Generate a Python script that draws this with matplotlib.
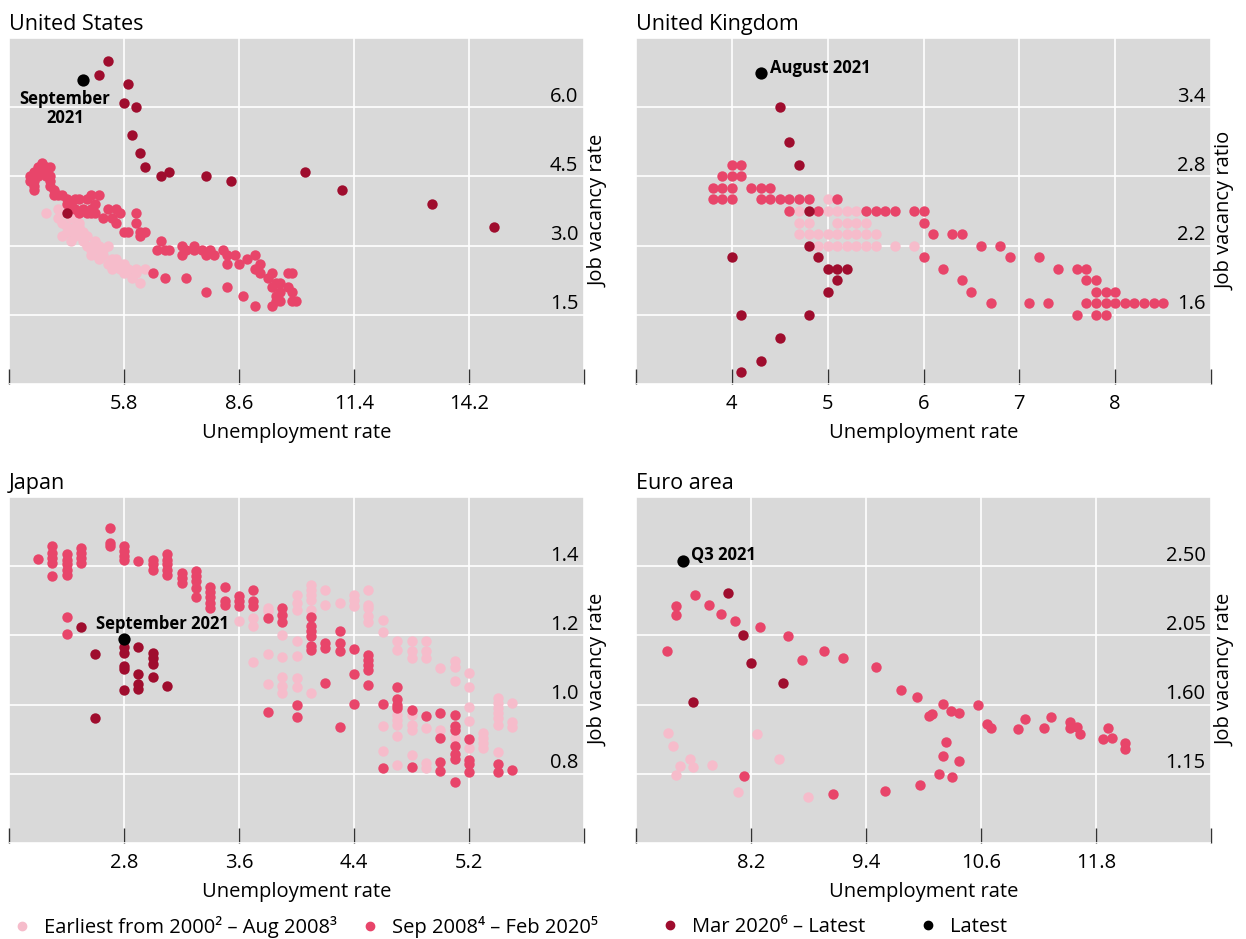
import matplotlib.pyplot as plt
from matplotlib.lines import Line2D

plt.rcParams['font.family'] = ['Open Sans', 'DejaVu Sans']

PINK = '#f6bccb'
RED = '#e8456a'
DARK = '#9f0d2e'
BG = '#d9d9d9'

# ---------------- United States: (unemployment rate, job vacancy rate)
us_pink = [(3.9, 3.7), (4.2, 3.8), (4.2, 3.6), (4.3, 3.5), (4.4, 3.4), (4.4, 3.7), (4.3, 3.2),
           (4.4, 3.3), (4.5, 3.1), (4.5, 3.6), (4.6, 3.4), (4.6, 3.2), (4.6, 3.3), (4.7, 3.4),
           (4.7, 3.5), (4.8, 3.1), (4.8, 3.3), (4.9, 3.2), (4.9, 3.0), (5.0, 3.0), (5.0, 2.9),
           (5.0, 2.8), (5.1, 3.1), (5.2, 2.9), (5.2, 3.0), (5.2, 2.7), (5.3, 2.8), (5.3, 2.9),
           (5.4, 3.0), (5.4, 2.6), (5.5, 2.7), (5.5, 2.5), (5.6, 2.7), (5.6, 2.6), (5.7, 2.6),
           (5.7, 2.5), (5.8, 2.6), (5.8, 2.4), (5.9, 2.5), (6.0, 2.3), (6.1, 2.5), (6.1, 2.4),
           (6.2, 2.2), (6.3, 2.5)]
us_mid = [(3.5, 4.4), (3.5, 4.5), (3.6, 4.3), (3.6, 4.4), (3.6, 4.6), (3.6, 4.2), (3.7, 4.5),
          (3.7, 4.6), (3.7, 4.7), (3.8, 4.6), (3.8, 4.8), (3.9, 4.7), (3.9, 4.5), (4.0, 4.7),
          (4.0, 4.4), (4.0, 4.5), (4.0, 4.3), (4.1, 4.1), (4.1, 4.2), (4.2, 4.1), (4.3, 4.1),
          (4.4, 4.0), (4.5, 3.9), (4.4, 3.9), (4.6, 4.0), (4.7, 4.0), (4.9, 4.0), (5.0, 4.1),
          (5.2, 4.1), (4.6, 3.8), (4.8, 3.8), (5.0, 3.8), (5.1, 3.9), (4.7, 3.7), (4.9, 3.7),
          (5.0, 3.7), (5.1, 3.7), (5.3, 3.6), (5.4, 3.8), (5.5, 3.6), (5.6, 3.5), (5.6, 3.8),
          (5.7, 3.7), (5.9, 3.3), (5.8, 3.3), (6.1, 3.7), (6.1, 3.5), (6.2, 3.3), (6.3, 3.3),
          (6.2, 3.2), (6.7, 3.1), (6.6, 2.9), (6.8, 2.9), (6.9, 2.9), (7.2, 3.0), (7.2, 2.8),
          (7.3, 2.9), (7.5, 3.0), (7.5, 2.9), (7.7, 2.9), (7.8, 2.8), (7.9, 2.9), (8.0, 2.8),
          (8.2, 2.9), (8.3, 2.8), (8.3, 2.6), (8.5, 2.8), (8.6, 2.6), (8.8, 2.7), (9.0, 2.8),
          (9.1, 2.6), (9.0, 2.5), (9.1, 2.4), (9.3, 2.3), (9.4, 2.4), (9.5, 2.2), (9.6, 2.2),
          (9.4, 2.1), (9.8, 2.4), (9.9, 2.4), (9.8, 2.1), (9.9, 2.0), (9.9, 1.8), (10.0, 1.8),
          (9.5, 1.9), (9.5, 1.8), (9.6, 2.0), (9.4, 1.7), (9.6, 1.8), (6.5, 2.4), (6.8, 2.3),
          (7.3, 2.3), (7.8, 2.0), (8.3, 2.1), (8.7, 1.9), (9.0, 1.7)]
us_dark = [(4.4, 3.7), (14.8, 3.4), (13.3, 3.9), (11.1, 4.2), (10.2, 4.6), (8.4, 4.4), (7.8, 4.5),
           (6.9, 4.6), (6.7, 4.5), (6.3, 4.7), (6.2, 5.0), (6.0, 5.4), (6.1, 6.0), (5.8, 6.1),
           (5.9, 6.5), (5.4, 7.0), (5.2, 6.7)]
us_latest = [(4.8, 6.6)]

# ---------------- United Kingdom
uk_pink = [(5.0, 2.6), (4.7, 2.5), (5.0, 2.5), (5.1, 2.5), (5.2, 2.5), (5.3, 2.5),
           (4.7, 2.4), (4.8, 2.4), (5.1, 2.4), (5.2, 2.4), (5.3, 2.4), (5.4, 2.4),
           (4.7, 2.3), (4.8, 2.3), (4.9, 2.3), (5.0, 2.3), (5.1, 2.3), (5.2, 2.3), (5.3, 2.3),
           (5.4, 2.3), (5.5, 2.3), (4.9, 2.2), (5.0, 2.2), (5.1, 2.2), (5.2, 2.2), (5.3, 2.2),
           (5.4, 2.2), (5.5, 2.2), (5.7, 2.2), (5.9, 2.2)]
uk_mid = [(4.0, 2.9), (4.1, 2.9), (3.9, 2.8), (4.0, 2.8), (4.1, 2.8),
          (3.8, 2.7), (3.9, 2.7), (4.0, 2.7), (4.2, 2.7), (4.3, 2.7), (4.4, 2.7),
          (3.8, 2.6), (3.9, 2.6), (4.0, 2.6), (4.3, 2.6), (4.4, 2.6), (4.5, 2.6), (4.6, 2.6),
          (4.7, 2.6), (4.8, 2.6), (5.1, 2.6),
          (4.6, 2.5), (4.9, 2.5), (5.4, 2.5), (5.5, 2.5), (5.6, 2.5), (5.7, 2.5), (5.9, 2.5),
          (6.0, 2.5), (6.0, 2.4), (6.1, 2.3), (6.3, 2.3), (6.4, 2.3), (6.6, 2.2), (6.8, 2.2),
          (6.0, 2.1), (6.9, 2.1), (7.2, 2.1), (6.2, 2.0), (7.4, 2.0), (7.6, 2.0), (7.7, 2.0),
          (6.4, 1.9), (7.7, 1.9), (7.8, 1.9), (6.5, 1.8), (7.8, 1.8), (7.9, 1.8), (8.0, 1.8),
          (6.7, 1.7), (7.1, 1.7), (7.3, 1.7), (7.7, 1.7), (7.8, 1.7), (7.9, 1.7), (8.0, 1.7),
          (8.1, 1.7), (8.2, 1.7), (8.3, 1.7), (8.4, 1.7), (8.5, 1.7),
          (7.6, 1.6), (7.8, 1.6), (7.9, 1.6)]
uk_dark = [(4.7, 2.9), (4.8, 2.5), (4.8, 2.2), (4.0, 2.1), (4.9, 2.1), (5.0, 2.0), (5.1, 2.0),
           (5.2, 2.0), (5.1, 1.9), (5.0, 1.8), (4.1, 1.6), (4.8, 1.6), (4.5, 1.4), (4.3, 1.2),
           (4.1, 1.1), (4.6, 3.1), (4.5, 3.4)]
uk_latest = [(4.3, 3.7)]

# ---------------- Japan
jp_pink = [(3.6, 1.243), (3.7, 1.25), (3.7, 1.226), (3.7, 1.123), (3.8, 1.28), (3.8, 1.27),
           (3.8, 1.147), (3.8, 1.06), (3.9, 1.2), (3.9, 1.137), (3.9, 1.08), (3.9, 1.053),
           (3.9, 1.034), (4.0, 1.318), (4.0, 1.294), (4.0, 1.274), (4.0, 1.185), (4.0, 1.141),
           (4.0, 1.078), (4.0, 1.052), (4.1, 1.347), (4.1, 1.332), (4.1, 1.318), (4.1, 1.303),
           (4.1, 1.274), (4.1, 1.033), (4.2, 1.332), (4.2, 1.287), (4.3, 1.294), (4.4, 1.318),
           (4.4, 1.303), (4.4, 1.284), (4.5, 1.33), (4.5, 1.289), (4.5, 1.279), (4.5, 1.255),
           (4.5, 1.24), (4.6, 1.245), (4.6, 1.21), (4.6, 0.939), (4.6, 0.867), (4.7, 1.185),
           (4.7, 1.159), (4.7, 0.97), (4.7, 0.956), (4.7, 0.942), (4.7, 0.91), (4.7, 0.824),
           (4.8, 1.185), (4.8, 1.156), (4.8, 1.134), (4.8, 0.97), (4.8, 0.942), (4.8, 0.927),
           (4.8, 0.855), (4.9, 1.185), (4.9, 1.154), (4.9, 1.134), (4.9, 0.932), (4.9, 0.83),
           (4.9, 0.816), (5.0, 1.107), (5.0, 0.927), (5.1, 1.125), (5.1, 1.11), (5.1, 1.069),
           (5.1, 0.903), (5.2, 1.091), (5.2, 1.052), (5.2, 0.993), (5.2, 0.953), (5.2, 0.876),
           (5.3, 0.917), (5.3, 0.903), (5.3, 0.889), (5.3, 0.874), (5.4, 1.019), (5.4, 1.004),
           (5.4, 0.99), (5.4, 0.975), (5.4, 0.96), (5.4, 0.942), (5.4, 0.864), (5.5, 1.004),
           (5.5, 0.949), (5.5, 0.935)]
jp_mid = [(2.2, 1.42), (2.3, 1.458), (2.3, 1.439), (2.3, 1.424), (2.3, 1.41), (2.3, 1.371),
          (2.4, 1.436), (2.4, 1.419), (2.4, 1.405), (2.4, 1.39), (2.4, 1.376), (2.4, 1.253),
          (2.4, 1.205), (2.5, 1.453), (2.5, 1.439), (2.5, 1.424), (2.5, 1.41), (2.7, 1.509),
          (2.7, 1.467), (2.7, 1.458), (2.8, 1.458), (2.8, 1.443), (2.8, 1.429), (2.8, 1.419),
          (2.9, 1.414), (3.0, 1.419), (3.0, 1.405), (3.0, 1.39), (3.1, 1.434), (3.1, 1.419),
          (3.1, 1.405), (3.1, 1.39), (3.1, 1.376), (3.2, 1.381), (3.2, 1.366), (3.2, 1.352),
          (3.3, 1.386), (3.3, 1.371), (3.3, 1.357), (3.3, 1.337), (3.3, 1.31), (3.4, 1.339),
          (3.4, 1.326), (3.4, 1.31), (3.4, 1.294), (3.4, 1.28), (3.5, 1.339), (3.5, 1.30),
          (3.5, 1.289), (3.6, 1.313), (3.6, 1.299), (3.6, 1.284), (3.7, 1.33), (3.7, 1.299),
          (3.7, 1.284), (3.8, 1.249), (3.8, 0.98), (3.9, 1.279), (3.9, 1.26), (3.9, 1.24),
          (4.0, 1.0), (4.0, 0.964), (4.1, 1.252), (4.1, 1.226), (4.1, 1.212), (4.1, 1.197),
          (4.1, 1.168), (4.1, 1.159), (4.2, 1.178), (4.2, 1.165), (4.2, 1.062), (4.3, 1.214),
          (4.3, 1.178), (4.3, 1.156), (4.3, 0.935), (4.4, 1.16), (4.4, 1.088), (4.4, 1.001),
          (4.5, 1.144), (4.5, 1.13), (4.5, 1.115), (4.5, 1.101), (4.5, 1.057), (4.6, 1.001),
          (4.6, 0.816), (4.7, 1.05), (4.7, 1.016), (4.7, 1.0), (4.7, 0.99), (4.8, 0.983),
          (4.8, 0.819), (4.9, 0.966), (5.0, 0.975), (5.0, 0.903), (5.0, 0.834), (5.0, 0.807),
          (5.1, 0.969), (5.1, 0.937), (5.1, 0.927), (5.1, 0.879), (5.1, 0.857), (5.1, 0.843),
          (5.1, 0.776), (5.2, 0.901), (5.2, 0.84), (5.2, 0.828), (5.2, 0.804), (5.4, 0.828),
          (5.4, 0.805), (5.5, 0.81)]
jp_dark = [(2.5, 1.224), (2.6, 1.145), (2.6, 0.962), (2.8, 1.166), (2.8, 1.15), (2.8, 1.111),
           (2.8, 1.102), (2.8, 1.042), (2.9, 1.167), (2.9, 1.089), (2.9, 1.06), (2.9, 1.046),
           (3.0, 1.15), (3.0, 1.135), (3.0, 1.116), (3.0, 1.08), (3.1, 1.055)]
jp_latest = [(2.8, 1.19)]

# ---------------- Euro area
ea_pink = [(7.33, 1.413), (7.39, 1.333), (7.56, 1.246), (7.46, 1.202), (7.59, 1.196),
           (7.42, 1.141), (7.79, 1.209), (8.26, 1.406), (8.49, 1.246), (8.06, 1.03), (8.79, 1.002)]
ea_mid = [(7.42, 2.243), (7.42, 2.18), (7.62, 2.313), (7.76, 2.246), (7.89, 2.189), (8.03, 2.146),
          (8.29, 2.104), (8.59, 2.046), (7.32, 1.95), (8.73, 1.893), (8.96, 1.946), (9.16, 1.902),
          (9.50, 1.843), (9.76, 1.696), (9.93, 1.648), (10.06, 1.528), (10.09, 1.537),
          (10.2, 1.602), (10.29, 1.559), (10.37, 1.543), (10.57, 1.596), (10.66, 1.474),
          (10.7, 1.446), (10.99, 1.441), (11.06, 1.504), (11.26, 1.446), (11.33, 1.517),
          (11.53, 1.489), (11.53, 1.446), (11.6, 1.456), (11.63, 1.409), (11.87, 1.378),
          (11.93, 1.446), (11.97, 1.38), (12.1, 1.348), (12.1, 1.311), (10.23, 1.359),
          (10.2, 1.267), (10.37, 1.235), (10.16, 1.146), (10.3, 1.126), (9.96, 1.08),
          (9.6, 1.039), (9.06, 1.017), (8.13, 1.135)]
ea_dark = [(7.96, 2.326), (8.12, 2.054), (8.2, 1.872), (8.53, 1.739), (7.59, 1.62)]
ea_latest = [(7.49, 2.537)]

panels = [
    dict(title='United States', rect=[9, 38], ylabel='Job vacancy rate',
         xticks=[3.0, 5.8, 8.6, 11.4, 14.2, 17.0], xlabels=['', '5.8', '8.6', '11.4', '14.2', ''],
         yticks=[0.0, 1.5, 3.0, 4.5, 6.0, 7.5], ylabels=['', '1.5', '3.0', '4.5', '6.0', ''],
         series=[us_pink, us_mid, us_dark], latest=us_latest,
         note='September\n2021', note_off=(-13, -21), note_ha='center'),
    dict(title='United Kingdom', rect=[636, 38], ylabel='Job vacancy ratio',
         xticks=[3, 4, 5, 6, 7, 8, 9], xlabels=['', '4', '5', '6', '7', '8', ''],
         yticks=[1.0, 1.6, 2.2, 2.8, 3.4, 4.0], ylabels=['', '1.6', '2.2', '2.8', '3.4', ''],
         series=[uk_pink, uk_mid, uk_dark], latest=uk_latest,
         note='August 2021', note_off=(7, 3), note_ha='left'),
    dict(title='Japan', rect=[9, 497], ylabel='Job vacancy rate',
         xticks=[2.0, 2.8, 3.6, 4.4, 5.2, 6.0], xlabels=['', '2.8', '3.6', '4.4', '5.2', ''],
         yticks=[0.6, 0.8, 1.0, 1.2, 1.4, 1.6], ylabels=['', '0.8', '1.0', '1.2', '1.4', ''],
         series=[jp_pink, jp_mid, jp_dark], latest=jp_latest,
         note='September 2021', note_off=(-20, 11), note_ha='left'),
    dict(title='Euro area', rect=[636, 497], ylabel='Job vacancy rate',
         xticks=[7.0, 8.2, 9.4, 10.6, 11.8, 13.0], xlabels=['', '8.2', '9.4', '10.6', '11.8', ''],
         yticks=[0.70, 1.15, 1.60, 2.05, 2.50, 2.95],
         ylabels=['', '1.15', '1.60', '2.05', '2.50', ''],
         series=[ea_pink, ea_mid, ea_dark], latest=ea_latest,
         note='Q3 2021', note_off=(6, 4), note_ha='left'),
]

W, H = 1246, 939
fig = plt.figure(figsize=(W / 100, H / 100), dpi=100)
FS = 14.5

for p in panels:
    x0, y0 = p['rect']
    ax = fig.add_axes([x0 / W, 1 - (y0 + 346) / H, 575 / W, 346 / H])
    ax.set_facecolor(BG)
    for s in ax.spines.values():
        s.set_visible(False)
    ax.set_xlim(p['xticks'][0], p['xticks'][-1])
    ax.set_ylim(p['yticks'][0], p['yticks'][-1])
    ax.set_xticks(p['xticks'])
    ax.set_xticklabels(p['xlabels'])
    ax.set_yticks(p['yticks'])
    ax.set_yticklabels([])
    ax.grid(True, color='white', linewidth=1.2)
    ax.set_axisbelow(True)
    ax.tick_params(axis='x', direction='in', length=11, width=1, color='#333333',
                   labelsize=FS, pad=7)
    ax.tick_params(axis='y', length=0)
    for v, lab in zip(p['yticks'], p['ylabels']):
        if lab:
            ax.annotate(lab, xy=(1, v), xycoords=('axes fraction', 'data'),
                        xytext=(-4, 0.5), textcoords='offset points',
                        ha='right', va='bottom', fontsize=FS)
    ax.set_xlabel('Unemployment rate', fontsize=FS, labelpad=7)
    ax.set_ylabel(p['ylabel'], fontsize=FS)
    ax.yaxis.set_label_position('right')
    ax.yaxis.set_label_coords(1.008, 0.5)
    ax.set_title(p['title'], loc='left', fontsize=FS + 1, pad=6)

    for pts, col in zip(p['series'], [PINK, RED, DARK]):
        xs, ys = zip(*pts)
        ax.scatter(xs, ys, s=56, color=col, linewidths=0, zorder=3)
    lx, ly = zip(*p['latest'])
    ax.scatter(lx, ly, s=78, color='black', linewidths=0, zorder=4)
    ax.annotate(p['note'], xy=p['latest'][0], xytext=p['note_off'],
                textcoords='offset points', ha=p['note_ha'], va='center',
                fontsize=FS - 2.5, fontweight='bold', linespacing=1.05, zorder=5)

legend_items = [
    (PINK, 'Earliest from 2000\u00b2 \u2013 Aug 2008\u00b3', 22),
    (RED, 'Sep 2008\u2074 \u2013 Feb 2020\u2075', 370),
    (DARK, 'Mar 2020\u2076 \u2013 Latest', 670),
    ('black', 'Latest', 928),
]
for col, lab, xc in legend_items:
    h = Line2D([], [], marker='o', linestyle='none', color=col, markersize=6)
    fig.legend(handles=[h], labels=[lab], loc='center left',
               bbox_to_anchor=((xc - 10) / W, 1 - 927 / H), frameon=False,
               fontsize=FS, handlelength=1.0, handletextpad=0.6,
               borderpad=0, borderaxespad=0)

fig.savefig('out.png', dpi=100)
